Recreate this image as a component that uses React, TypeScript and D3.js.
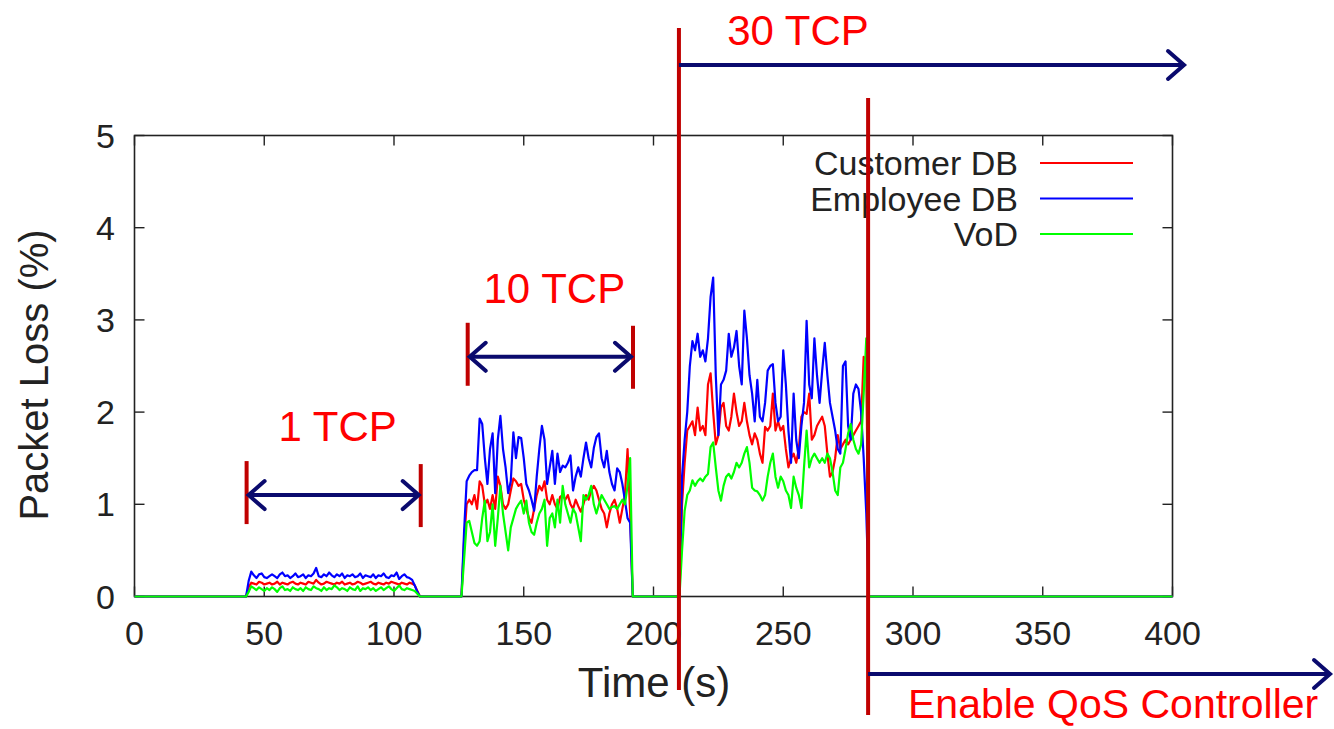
import { useEffect, useRef } from "react";
import * as d3 from "d3";

// axis ticks
const xTicks = [0, 50, 100, 150, 200, 250, 300, 350, 400];
const yTicks = [0, 1, 2, 3, 4, 5];

const seriesNames = ["Customer DB", "Employee DB", "VoD"];
const seriesColors = ["#ff0000", "#0000ff", "#00ff00"];

// 1 TCP phase, one sample per second from t=44
const oneTcpStart = 44;
const oneTcpEnd = 110;
const customerOne = [
  0.1, 0.15, 0.14, 0.13, 0.16, 0.15, 0.13, 0.14, 0.15, 0.13,
  0.14, 0.16, 0.13, 0.15, 0.14, 0.13, 0.15, 0.16, 0.14, 0.13,
  0.15, 0.14, 0.13, 0.16, 0.15, 0.14, 0.18, 0.15, 0.13, 0.14,
  0.16, 0.15, 0.14, 0.13, 0.15, 0.14, 0.16, 0.13, 0.14, 0.15,
  0.13, 0.14, 0.16, 0.15, 0.13, 0.14, 0.15, 0.16, 0.14, 0.13,
  0.15, 0.14, 0.13, 0.15, 0.14, 0.16, 0.15, 0.14, 0.13, 0.15,
  0.14, 0.13, 0.15, 0.14, 0.12, 0.06,
];
const employeeOne = [
  0.17, 0.27, 0.23, 0.2, 0.24, 0.25, 0.21, 0.2, 0.22, 0.24,
  0.22, 0.2, 0.24, 0.26, 0.22, 0.23, 0.2, 0.22, 0.25, 0.21,
  0.22, 0.24, 0.2, 0.23, 0.22, 0.25, 0.31, 0.22, 0.21, 0.24,
  0.22, 0.26, 0.23, 0.21, 0.24, 0.22, 0.25, 0.2, 0.23, 0.22,
  0.24, 0.21, 0.22, 0.25, 0.2, 0.23, 0.22, 0.21, 0.24, 0.2,
  0.23, 0.22, 0.25, 0.21, 0.2, 0.23, 0.22, 0.26, 0.19, 0.22,
  0.24, 0.21, 0.2, 0.18, 0.12, 0.05,
];
const vodOne = [
  0.05, 0.11, 0.09, 0.07, 0.1, 0.08, 0.06, 0.09, 0.07, 0.1,
  0.08, 0.05, 0.09, 0.11, 0.07, 0.08, 0.06, 0.1, 0.08, 0.07,
  0.09, 0.06, 0.1, 0.08, 0.07, 0.11, 0.09, 0.08, 0.06, 0.1,
  0.07, 0.09, 0.08, 0.12, 0.1, 0.07, 0.09, 0.08, 0.06, 0.1,
  0.08, 0.07, 0.11, 0.06, 0.09, 0.08, 0.1, 0.07, 0.09, 0.06,
  0.08, 0.1, 0.07, 0.09, 0.11, 0.08, 0.06, 0.09, 0.12, 0.08,
  0.07, 0.09, 0.08, 0.07, 0.06, 0.03,
];

// 10 TCP phase, from t=127
const tenTcpStart = 127;
const tenTcpEnd = 192;
const customerTen = [
  0.6, 1.0, 1.05, 1.0, 1.1, 0.95, 1.25, 1.2, 1.0, 1.05,
  0.95, 1.1, 0.95, 1.3, 1.2, 1.0, 0.95, 1.0, 1.15, 1.28,
  1.25, 1.2, 1.22, 1.05, 0.95, 0.85, 0.8, 0.95, 1.1, 1.2,
  1.15, 1.25, 1.05, 1.0, 1.1, 1.0, 0.95, 1.08, 1.1, 1.05,
  1.1, 1.0, 0.95, 1.05, 0.98, 0.92, 1.0, 1.1, 1.05, 1.15,
  1.2, 1.15, 1.05, 0.95, 0.9, 0.75, 0.9, 1.0, 1.05, 0.95,
  0.8, 0.95, 1.1, 1.6, 0.9,
];
const employeeTen = [
  0.7, 1.25, 1.31, 1.35, 1.37, 1.37, 1.93, 1.87, 1.5, 1.22,
  1.6, 1.77, 1.12, 1.7, 1.96, 1.6, 1.4, 1.12, 1.25, 1.78,
  1.5, 1.73, 1.72, 1.5, 1.22, 1.15, 1.05, 0.93, 1.3, 1.6,
  1.85, 1.7, 1.22, 1.4, 1.58, 1.22, 1.55, 1.35, 1.42, 1.4,
  1.45, 1.53, 1.15, 1.3, 1.4, 1.3, 1.5, 1.67, 1.5, 1.4,
  1.61, 1.73, 1.77, 1.5, 1.4, 1.58, 1.35, 1.22, 1.15, 1.39,
  1.35, 1.22, 1.04, 0.85, 0.8,
];
const vodTen = [
  0.4, 0.8, 0.82, 0.7, 0.58, 0.55, 0.6, 0.85, 1.04, 0.6,
  0.7, 1.0, 0.55, 0.85, 1.2, 0.9, 0.7, 0.5, 0.75, 0.85,
  0.95, 1.0, 1.04, 0.9, 1.04, 0.8, 0.7, 0.67, 0.8, 0.9,
  0.95, 1.05, 0.55, 0.85, 0.9, 0.75, 1.05, 0.8, 1.2, 1.0,
  0.9, 0.8, 0.95, 0.9, 0.75, 0.6, 1.1, 1.05, 1.1, 1.2,
  1.0, 0.9, 1.0, 1.1, 1.05, 1.0, 0.95, 0.97, 0.98, 0.95,
  1.0, 1.05, 1.0, 1.2, 1.5,
];

// 30 TCP phase, from t=211
const thirtyTcpStart = 211;
const thirtyTcpEnd = 283;
const customerThirty = [
  1.0, 1.45, 1.8, 1.85, 1.9, 1.75, 2.05, 1.8, 1.85, 1.75,
  2.3, 2.42, 2.0, 1.65, 1.75, 2.05, 2.1, 1.85, 1.8, 1.95,
  2.2, 2.0, 1.85, 1.9, 2.1, 1.9, 1.75, 1.65, 1.77, 1.7,
  1.55, 1.45, 1.84, 1.8, 1.85, 2.2, 1.8, 1.9, 1.8, 1.85,
  1.6, 1.4, 1.5, 1.55, 1.45, 1.6, 1.95, 2.0, 1.98, 2.2,
  1.7, 1.75, 1.85, 1.9, 1.95, 1.85, 1.55, 1.3, 1.35, 1.5,
  1.75, 1.6, 1.65, 1.7, 1.65, 1.7, 1.75, 1.8, 1.85, 1.9,
  2.6, 2.5,
];
const employeeThirty = [
  1.3, 1.7, 2.0, 2.5, 2.77, 2.67, 2.85, 2.6, 2.67, 2.55,
  2.8, 3.25, 3.46, 2.4, 1.75, 2.3, 2.35, 2.45, 2.85, 2.6,
  2.7, 2.88, 2.5, 2.3, 3.1, 2.8, 2.4, 2.2, 1.9, 2.35,
  1.95, 1.9, 2.1, 2.45, 2.5, 2.52, 2.1, 1.9, 1.95, 2.67,
  2.3, 1.8, 1.45, 2.2, 1.7, 1.5, 1.85, 2.1, 2.99, 2.3,
  2.15, 2.8, 2.4, 2.1, 2.45, 2.75, 2.4, 2.1, 1.95, 1.8,
  1.6, 1.55, 2.5, 2.55, 1.85, 1.7, 2.2, 2.3, 2.25, 2.0,
  1.5, 0.9,
];
const vodThirty = [
  0.5, 0.93, 1.1, 1.15, 1.26, 1.2, 1.25, 1.28, 1.25, 1.3,
  1.33, 1.62, 1.67, 1.4, 1.15, 1.04, 1.2, 1.3, 1.33, 1.28,
  1.35, 1.45, 1.4, 1.45, 1.55, 1.62, 1.45, 1.18, 1.15, 1.14,
  1.1, 1.04, 1.1, 1.3, 1.45, 1.55, 1.3, 1.18, 1.3, 1.25,
  1.15, 1.1, 0.96, 1.3, 1.18, 1.1, 0.96, 1.4, 1.8, 1.4,
  1.5, 1.55, 1.5, 1.45, 1.5, 1.45, 1.55, 1.5, 1.35, 1.15,
  1.1, 1.4, 1.45, 1.6, 1.77, 1.87, 1.7, 1.6, 1.55, 1.65,
  2.2, 2.8,
];

// annotations (time in s, level in % units)
const phaseLabels = ["1 TCP", "10 TCP"];
const phaseFrom = [43.2, 128.4];
const phaseTo = [110.3, 192.1];
const phaseArrowLevel = [1.1, 2.6];
const thirtyTcpLine = 209.8;
const qosLine = 282.7;

const W = 1334;
const H = 729;
const FONT = "'Liberation Sans', Arial, Helvetica, sans-serif";
const DARK_RED = "#c00000";
const NAVY = "#0a0a6e";

function buildSeries(parts) {
  // parts: [start, end, values][]
  const pts = [[0, 0]];
  parts.forEach(([start, end, vals]) => {
    pts.push([start - 1, 0]);
    vals.forEach((v, i) => pts.push([start + i, v]));
    pts.push([end, 0]);
  });
  pts.push([400, 0]);
  return pts;
}

const App = () => {
  const svgRef = useRef(null);

  useEffect(() => {
    const svg = d3.select(svgRef.current);
    svg.selectAll("*").remove();

    const x = d3.scaleLinear().domain([0, 400]).range([134.5, 1172.5]);
    const y = d3.scaleLinear().domain([0, 5]).range([596.5, 135.5]);

    const series = [
      buildSeries([
        [oneTcpStart, oneTcpEnd, customerOne],
        [tenTcpStart, tenTcpEnd, customerTen],
        [thirtyTcpStart, thirtyTcpEnd, customerThirty],
      ]),
      buildSeries([
        [oneTcpStart, oneTcpEnd, employeeOne],
        [tenTcpStart, tenTcpEnd, employeeTen],
        [thirtyTcpStart, thirtyTcpEnd, employeeThirty],
      ]),
      buildSeries([
        [oneTcpStart, oneTcpEnd, vodOne],
        [tenTcpStart, tenTcpEnd, vodTen],
        [thirtyTcpStart, thirtyTcpEnd, vodThirty],
      ]),
    ];

    const [x0, x1] = x.range();
    const [y0, y1] = y.range();
    const tickLen = 10;
    const axisColor = "#222";

    // frame
    svg
      .append("rect")
      .attr("x", x0)
      .attr("y", y1)
      .attr("width", x1 - x0)
      .attr("height", y0 - y1)
      .attr("fill", "none")
      .attr("stroke", axisColor)
      .attr("stroke-width", 1.6);

    // mirrored inward ticks
    const ticks = svg.append("g").attr("stroke", axisColor).attr("stroke-width", 1.4);
    xTicks.forEach((t) => {
      ticks.append("line").attr("x1", x(t)).attr("x2", x(t)).attr("y1", y0).attr("y2", y0 - tickLen);
      ticks.append("line").attr("x1", x(t)).attr("x2", x(t)).attr("y1", y1).attr("y2", y1 + tickLen);
    });
    yTicks.forEach((t) => {
      ticks.append("line").attr("x1", x0).attr("x2", x0 + tickLen).attr("y1", y(t)).attr("y2", y(t));
      ticks.append("line").attr("x1", x1).attr("x2", x1 - tickLen).attr("y1", y(t)).attr("y2", y(t));
    });

    // tick labels
    svg
      .append("g")
      .selectAll("text")
      .data(xTicks)
      .enter()
      .append("text")
      .attr("x", (d) => x(d))
      .attr("y", 645)
      .attr("text-anchor", "middle")
      .attr("font-family", FONT)
      .attr("font-size", 34)
      .attr("fill", axisColor)
      .text((d) => d);
    svg
      .append("g")
      .selectAll("text")
      .data(yTicks)
      .enter()
      .append("text")
      .attr("x", 115)
      .attr("y", (d) => y(d) + 12)
      .attr("text-anchor", "end")
      .attr("font-family", FONT)
      .attr("font-size", 34)
      .attr("fill", axisColor)
      .text((d) => d);

    // axis titles
    svg
      .append("text")
      .attr("x", 654)
      .attr("y", 697)
      .attr("text-anchor", "middle")
      .attr("font-family", FONT)
      .attr("font-size", 42)
      .attr("fill", axisColor)
      .text("Time (s)");
    svg
      .append("text")
      .attr("transform", "translate(48,375) rotate(-90)")
      .attr("text-anchor", "middle")
      .attr("font-family", FONT)
      .attr("font-size", 40)
      .attr("fill", axisColor)
      .text("Packet Loss (%)");

    // series lines
    const line = d3
      .line()
      .x((d) => x(d[0]))
      .y((d) => y(d[1]));
    series.forEach((pts, i) => {
      svg
        .append("path")
        .datum(pts)
        .attr("fill", "none")
        .attr("stroke", seriesColors[i])
        .attr("stroke-width", 2.2)
        .attr("stroke-linejoin", "round")
        .attr("d", line);
    });

    // legend
    const legend = svg.append("g");
    seriesNames.forEach((name, i) => {
      const ly = 163 + i * 35.5;
      legend
        .append("text")
        .attr("x", 1018)
        .attr("y", ly + 12)
        .attr("text-anchor", "end")
        .attr("font-family", FONT)
        .attr("font-size", 34)
        .attr("fill", axisColor)
        .text(name);
      legend
        .append("line")
        .attr("x1", 1040)
        .attr("x2", 1133)
        .attr("y1", ly)
        .attr("y2", ly)
        .attr("stroke", seriesColors[i])
        .attr("stroke-width", 2);
    });

    // annotations
    const ann = svg.append("g");
    const head = (px, py, dir) =>
      `M${px - dir * 16},${py - 14}L${px},${py}L${px - dir * 16},${py + 14}`;

    phaseLabels.forEach((label, i) => {
      const xa = x(phaseFrom[i]);
      const xb = x(phaseTo[i]);
      const ya = y(phaseArrowLevel[i]);
      [xa, xb].forEach((xx, k) => {
        ann
          .append("line")
          .attr("x1", xx)
          .attr("x2", xx)
          .attr("y1", ya - 34 + k * 3)
          .attr("y2", ya + 29 + k * 3)
          .attr("stroke", DARK_RED)
          .attr("stroke-width", 4);
      });
      ann
        .append("line")
        .attr("x1", xa + 2)
        .attr("x2", xb - 2)
        .attr("y1", ya)
        .attr("y2", ya)
        .attr("stroke", NAVY)
        .attr("stroke-width", 4);
      ann
        .append("path")
        .attr("d", head(xa + 2, ya, -1) + head(xb - 2, ya, 1))
        .attr("fill", "none")
        .attr("stroke", NAVY)
        .attr("stroke-width", 4)
        .attr("stroke-linecap", "round");
      ann
        .append("text")
        .attr("x", (xa + xb) / 2 + 4)
        .attr("y", ya - 54)
        .attr("text-anchor", "middle")
        .attr("font-family", FONT)
        .attr("font-size", 42)
        .attr("fill", "#ff0000")
        .text(label);
    });

    // 30 TCP marker
    const x30 = x(thirtyTcpLine);
    ann
      .append("line")
      .attr("x1", x30)
      .attr("x2", x30)
      .attr("y1", 28)
      .attr("y2", 690)
      .attr("stroke", DARK_RED)
      .attr("stroke-width", 4);
    ann
      .append("line")
      .attr("x1", x30)
      .attr("x2", 1184)
      .attr("y1", 65)
      .attr("y2", 65)
      .attr("stroke", NAVY)
      .attr("stroke-width", 4);
    ann
      .append("path")
      .attr("d", head(1184, 65, 1))
      .attr("fill", "none")
      .attr("stroke", NAVY)
      .attr("stroke-width", 4)
      .attr("stroke-linecap", "round");
    ann
      .append("text")
      .attr("x", 798)
      .attr("y", 45)
      .attr("text-anchor", "middle")
      .attr("font-family", FONT)
      .attr("font-size", 42)
      .attr("fill", "#ff0000")
      .text("30 TCP");

    // QoS controller marker
    const xq = x(qosLine);
    ann
      .append("line")
      .attr("x1", xq)
      .attr("x2", xq)
      .attr("y1", 98)
      .attr("y2", 715)
      .attr("stroke", DARK_RED)
      .attr("stroke-width", 4);
    ann
      .append("line")
      .attr("x1", xq)
      .attr("x2", 1330)
      .attr("y1", 674)
      .attr("y2", 674)
      .attr("stroke", NAVY)
      .attr("stroke-width", 4);
    ann
      .append("path")
      .attr("d", head(1330, 674, 1))
      .attr("fill", "none")
      .attr("stroke", NAVY)
      .attr("stroke-width", 4)
      .attr("stroke-linecap", "round");
    ann
      .append("text")
      .attr("x", 908)
      .attr("y", 718)
      .attr("font-family", FONT)
      .attr("font-size", 41)
      .attr("fill", "#ff0000")
      .text("Enable QoS Controller");
  }, []);

  return (
    <svg
      ref={svgRef}
      width={W}
      height={H}
      style={{ position: "absolute", left: 0, top: 0, background: "#fff" }}
    />
  );
};

export default App;
